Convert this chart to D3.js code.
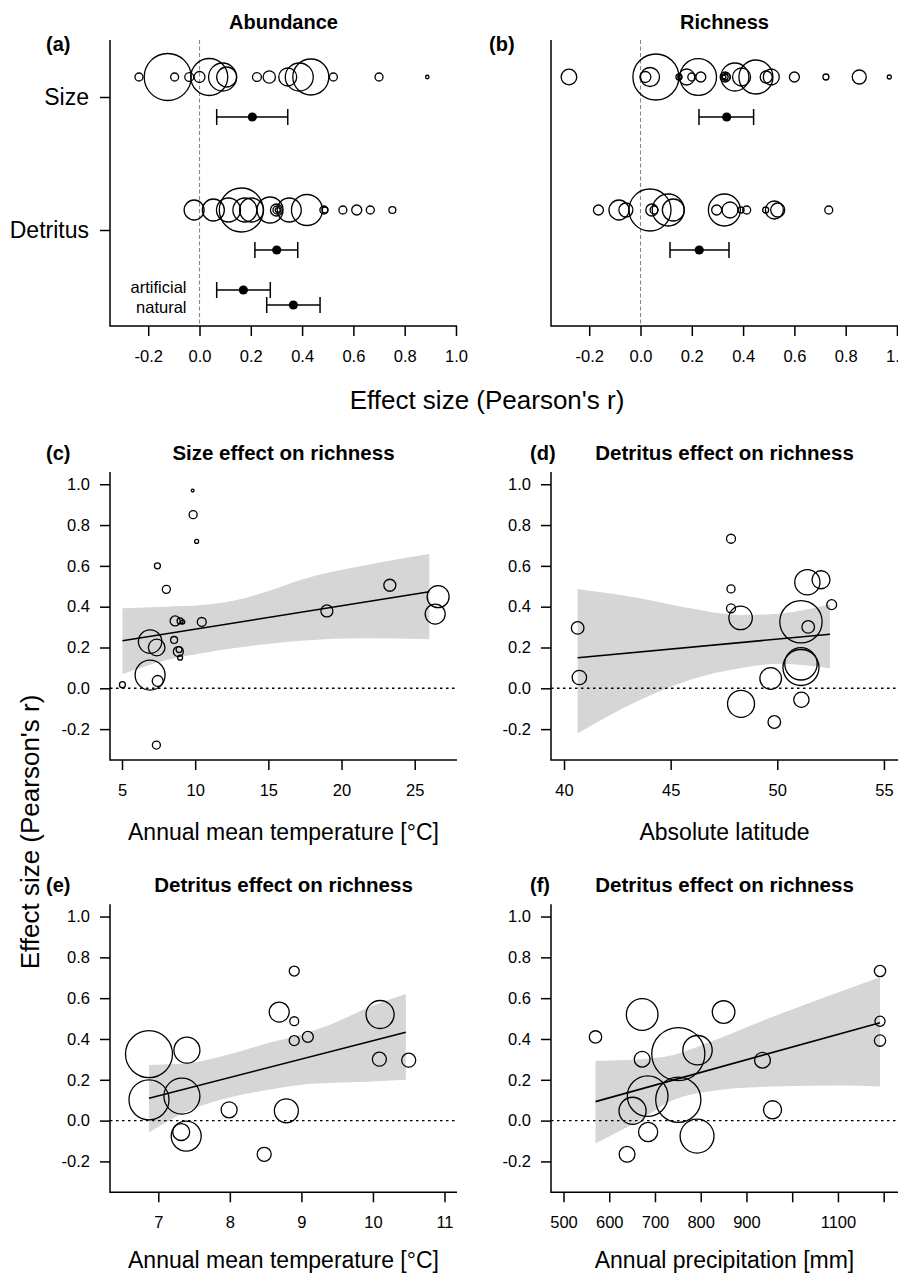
<!DOCTYPE html>
<html><head><meta charset="utf-8">
<script src="https://cdn.jsdelivr.net/npm/d3@7"></script>
<style>
body{margin:0;background:#fff}
svg{display:block}
text{font-family:"Liberation Sans", Arial, Helvetica, sans-serif;fill:#000}
</style>
</head><body>
<svg id="chart" width="898" height="1276"></svg>
<script>
// ---------------- DATA ----------------
const effectTicks = [-0.2, 0.0, 0.2, 0.4, 0.6, 0.8, 1.0];
const rowLabels = ["Size", "Detritus"];

// (a) Abundance: individual study effects (r) and weights
const abundSizeEff = [-0.236,-0.124,-0.097,-0.04,0.0,0.038,0.09,0.106,0.224,0.272,0.344,0.389,0.434,0.522,0.70,0.888];
const abundSizeW   = [16,552,16,20,30,342,196,100,20,38,81,196,324,16,16,3];
const abundDetEff  = [-0.021,0.054,0.113,0.163,0.177,0.203,0.275,0.30,0.302,0.305,0.35,0.419,0.485,0.489,0.559,0.613,0.666,0.752];
const abundDetW    = [100,121,144,484,144,144,169,36,16,6,144,240,16,9,16,25,16,12];
const abundMeanLabels = ["Size", "Detritus", "artificial", "natural"];
const abundMean = [0.206, 0.301, 0.171, 0.366];
const abundLo   = [0.067, 0.216, 0.067, 0.262];
const abundHi   = [0.344, 0.383, 0.276, 0.470];

// (b) Richness
const richSizeEff = [-0.279,0.019,0.037,0.06,0.15,0.153,0.18,0.2,0.225,0.235,0.325,0.33,0.335,0.33,0.368,0.394,0.45,0.49,0.51,0.6,0.723,0.853,0.97];
const richSizeW   = [61,30,90,529,9,4,64,16,335,25,4,9,16,25,196,81,289,36,64,25,9,49,4];
const richDetEff  = [-0.164,-0.084,-0.057,0.037,0.044,0.053,0.108,0.128,0.297,0.327,0.349,0.392,0.414,0.488,0.522,0.535,0.734];
const richDetW    = [25,100,49,441,36,16,256,121,25,256,64,9,16,9,81,49,16];
const richMeanLabels = ["Size", "Detritus"];
const richMean = [0.336, 0.229];
const richLo   = [0.228, 0.115];
const richHi   = [0.441, 0.345];

// (c) Size effect on richness vs temperature
const cTemp   = [9.83,9.86,10.1,7.42,8.03,23.3,26.6,26.4,19.0,8.63,8.97,9.15,10.45,6.92,7.37,8.56,8.85,8.9,8.97,6.92,7.44,5.03,7.35];
const cEffect = [0.969,0.851,0.72,0.6,0.485,0.505,0.449,0.364,0.379,0.33,0.33,0.325,0.325,0.229,0.2,0.237,0.18,0.19,0.15,0.065,0.036,0.018,-0.278];
const cWeight = [2,16,4,9,16,36,121,100,36,25,9,4,20,137,69,12,25,9,6,225,30,9,16];
const cBandX  = [5.03, 8.06, 10.45, 12.6, 14.9, 17.2, 21.7, 26.0];
const cBandLo = [0.07, 0.139, 0.172, 0.196, 0.217, 0.233, 0.245, 0.24];
const cBandHi = [0.392, 0.40, 0.408, 0.429, 0.474, 0.531, 0.604, 0.658];
const cFitX = [5.03, 26.0];
const cFitY = [0.233, 0.473];

// (d)-(f) Detritus effect on richness: shared studies
const detEffect = [0.733,0.487,0.392,0.52,0.532,0.41,0.345,0.326,0.301,0.296,0.12,0.102,0.053,0.048,-0.056,-0.076,-0.165];
const detWeight = [25,20,25,196,100,30,169,552,49,49,324,400,64,144,72,225,49];
const detLat    = [47.83,47.83,47.83,51.41,52.05,52.55,48.28,51.11,51.45,40.64,51.11,51.11,40.72,49.69,51.13,48.3,49.86];
const detTemp   = [8.9,8.9,8.9,10.1,8.69,9.09,7.40,6.87,10.09,10.5,7.33,6.87,7.99,8.79,7.32,7.39,8.48];
const detPrecip = [1192,1192,1192,672,850,570,793,751,672,935,684,751,957,651,685,792,639];

const dBandX  = [40.64, 43.56, 45.9, 48.25, 50.13, 52.47];
const dBandLo = [-0.22, -0.057, 0.041, 0.098, 0.12, 0.098];
const dBandHi = [0.487, 0.441, 0.392, 0.359, 0.367, 0.412];
const dFitX = [40.64, 52.47];
const dFitY = [0.15, 0.265];

const eBandX  = [6.87, 7.4, 8.05, 8.52, 8.98, 9.45, 9.91, 10.46];
const eBandLo = [-0.057, 0.045, 0.118, 0.15, 0.175, 0.185, 0.191, 0.2];
const eBandHi = [0.273, 0.281, 0.33, 0.379, 0.42, 0.477, 0.55, 0.62];
const eFitX = [6.87, 10.46];
const eFitY = [0.11, 0.433];

const fBandX  = [570, 667, 740, 813, 959, 1104, 1192];
const fBandLo = [-0.111, 0.003, 0.101, 0.142, 0.167, 0.172, 0.167];
const fBandHi = [0.293, 0.301, 0.322, 0.379, 0.51, 0.632, 0.703];
const fFitX = [570, 1192];
const fFitY = [0.093, 0.48];

const rTicks = [-0.2, 0.0, 0.2, 0.4, 0.6, 0.8, 1.0];
const cTicks = [5, 10, 15, 20, 25];
const dTicks = [40, 45, 50, 55];
const eTicks = [7, 8, 9, 10, 11];
const fTicks = [500, 600, 700, 800, 900, 1000, 1100, 1200];
const fTickLabels = ["500", "600", "700", "800", "900", "", "1100", ""];

// ---------------- LAYOUT ----------------
const svg = d3.select("#chart");
const colL = [110, 457], colR = [551, 898];
const rowA = [40, 326], rowC = [472, 760], rowE = [904.3, 1192.3];
const effDomain = [-0.349, 1.004];
const rDomain = [-0.3513, 1.06];
const AX = 1.5;

function styleAxis(g, fs) {
  g.attr("font-family", null).attr("font-size", null);
  g.selectAll(".tick line").attr("stroke", "#000").attr("stroke-width", AX);
  g.selectAll(".tick text").style("font-size", fs + "px").attr("fill", "#000");
  g.select(".domain").remove();
}
function boxL(g, xr, yr) {
  g.append("path").attr("d", `M${xr[0]},${yr[0]}V${yr[1]}H${xr[1]}`)
    .attr("fill", "none").attr("stroke", "#000").attr("stroke-width", AX);
}
function title(text, cx, y, size) {
  svg.append("text").attr("x", cx).attr("y", y).attr("dy", "0.35em")
    .attr("text-anchor", "middle").style("font-weight", "bold").style("font-size", size + "px").text(text);
}
function tag(text, x, y) {
  svg.append("text").attr("x", x).attr("y", y).attr("dy", "0.35em")
    .style("font-weight", "bold").style("font-size", "20px").text(text);
}

// ---------------- FOREST PANELS ----------------
function forest(xr, sizeEff, sizeW, detEff, detW, mLabels, mMean, mLo, mHi, ttl, tg, tagX, showRows) {
  const g = svg.append("g");
  const x = d3.scaleLinear().domain(effDomain).range(xr);
  const yRow = d3.scalePoint().domain(rowLabels).range([97, 230]);
  const r = d3.scaleSqrt().domain([0, 100]).range([0, 10]);
  const yMean = {Size: yRow("Size") + 20, Detritus: yRow("Detritus") + 20,
                 artificial: yRow("Detritus") + 60, natural: yRow("Detritus") + 75};
  const yText = {artificial: yRow("Detritus") + 57, natural: yRow("Detritus") + 77};

  // zero line
  g.append("line").attr("x1", x(0)).attr("x2", x(0)).attr("y1", rowA[0]).attr("y2", rowA[1])
    .attr("stroke", "#888").attr("stroke-width", 1.1).attr("stroke-dasharray", "4,2.5");

  // circles
  const circ = (eff, w, row) => g.append("g").selectAll("circle").data(eff).join("circle")
    .attr("cx", d => x(d)).attr("cy", yRow(row) - 20).attr("r", (d, i) => r(w[i]))
    .attr("fill", "none").attr("stroke", "#000").attr("stroke-width", 1.3);
  circ(sizeEff, sizeW, "Size");
  circ(detEff, detW, "Detritus");

  // means with CIs
  const mg = g.append("g").selectAll("g").data(mLabels).join("g");
  mg.append("line").attr("x1", (d, i) => x(mLo[i])).attr("x2", (d, i) => x(mHi[i]))
    .attr("y1", d => yMean[d]).attr("y2", d => yMean[d]).attr("stroke", "#000").attr("stroke-width", 1.5);
  mg.append("line").attr("x1", (d, i) => x(mLo[i])).attr("x2", (d, i) => x(mLo[i]))
    .attr("y1", d => yMean[d] - 8).attr("y2", d => yMean[d] + 8).attr("stroke", "#000").attr("stroke-width", 1.5);
  mg.append("line").attr("x1", (d, i) => x(mHi[i])).attr("x2", (d, i) => x(mHi[i]))
    .attr("y1", d => yMean[d] - 8).attr("y2", d => yMean[d] + 8).attr("stroke", "#000").attr("stroke-width", 1.5);
  mg.append("circle").attr("cx", (d, i) => x(mMean[i])).attr("cy", d => yMean[d]).attr("r", 4.6).attr("fill", "#000");

  if (mLabels.length > 2) {
    ["artificial", "natural"].forEach(lab => {
      g.append("text").attr("x", x(0) - 13).attr("y", yText[lab]).attr("dy", "0.35em")
        .attr("text-anchor", "end").style("font-size", "16.5px").text(lab);
    });
  }

  // axes
  g.append("g").attr("transform", `translate(0,${rowA[1]})`)
    .call(d3.axisBottom(x).tickValues(effectTicks).tickFormat(d => d.toFixed(1)).tickSize(10).tickPadding(14))
    .call(a => styleAxis(a, 16.5));
  const ya = g.append("g").attr("transform", `translate(${xr[0]},0)`)
    .call(d3.axisLeft(yRow).tickSize(10).tickPadding(11));
  styleAxis(ya, 23);
  if (!showRows) ya.selectAll(".tick").remove();
  boxL(g, xr, rowA);

  title(ttl, (xr[0] + xr[1]) / 2, 22, 20);
  tag(tg, tagX, 44);
}

forest(colL, abundSizeEff, abundSizeW, abundDetEff, abundDetW, abundMeanLabels, abundMean, abundLo, abundHi, "Abundance", "(a)", 46, true);
forest(colR, richSizeEff, richSizeW, richDetEff, richDetW, richMeanLabels, richMean, richLo, richHi, "Richness", "(b)", 489, false);

svg.append("text").attr("x", 487).attr("y", 400).attr("dy", "0.35em")
  .attr("text-anchor", "middle").style("font-size", "26px").text("Effect size (Pearson's r)");

// ---------------- SCATTER PANELS ----------------
function scatter(xr, yr, xDom, xTicks, xLabels, xs, ys, ws, rk, bx, blo, bhi, fx, fy, ttl, tg, tagX, xTitle, titleOff) {
  const g = svg.append("g");
  const x = d3.scaleLinear().domain(xDom).range(xr);
  const y = d3.scaleLinear().domain(rDomain).range([yr[1], yr[0]]);
  const r = d3.scaleSqrt().domain([0, 100]).range([0, 10 * rk]);

  const idx = d3.range(bx.length);
  g.append("path").attr("d", d3.area().x(i => x(bx[i])).y0(i => y(blo[i])).y1(i => y(bhi[i])).curve(d3.curveMonotoneX)(idx))
    .attr("fill", "#d6d6d6").attr("stroke", "none");

  g.append("line").attr("x1", xr[0]).attr("x2", xr[1]).attr("y1", y(0)).attr("y2", y(0))
    .attr("stroke", "#000").attr("stroke-width", 1.4).attr("stroke-dasharray", "2.5,3.5");

  g.append("path").attr("d", d3.line().x(i => x(fx[i])).y(i => y(fy[i]))([0, 1]))
    .attr("fill", "none").attr("stroke", "#000").attr("stroke-width", 1.6);

  g.append("g").selectAll("circle").data(xs).join("circle")
    .attr("cx", d => x(d)).attr("cy", (d, i) => y(ys[i])).attr("r", (d, i) => r(ws[i]))
    .attr("fill", "none").attr("stroke", "#000").attr("stroke-width", 1.3);

  g.append("g").attr("transform", `translate(0,${yr[1]})`)
    .call(d3.axisBottom(x).tickValues(xTicks).tickFormat((d, i) => xLabels ? xLabels[i] : String(d)).tickSize(10).tickPadding(14))
    .call(a => styleAxis(a, 16.5));
  g.append("g").attr("transform", `translate(${xr[0]},0)`)
    .call(d3.axisLeft(y).tickValues(rTicks).tickFormat(d => d.toFixed(1)).tickSize(10).tickPadding(10))
    .call(a => styleAxis(a, 16.5));
  boxL(g, xr, yr);

  title(ttl, (xr[0] + xr[1]) / 2, yr[0] - 19, 20.5);
  tag(tg, tagX, yr[0] - 19);
  svg.append("text").attr("x", (xr[0] + xr[1]) / 2).attr("y", yr[1] + titleOff).attr("dy", "0.35em")
    .attr("text-anchor", "middle").style("font-size", "23px").text(xTitle);
}

scatter(colL, rowC, [4.18, 27.89], cTicks, null, cTemp, cEffect, cWeight, 1.0,
  cBandX, cBandLo, cBandHi, cFitX, cFitY, "Size effect on richness", "(c)", 46, "Annual mean temperature [°C]", 72);
scatter(colR, rowC, [39.39, 55.66], dTicks, null, detLat, detEffect, detWeight, 0.9,
  dBandX, dBandLo, dBandHi, dFitX, dFitY, "Detritus effect on richness", "(d)", 530, "Absolute latitude", 72);
scatter(colL, rowE, [6.325, 11.175], eTicks, null, detTemp, detEffect, detWeight, 1.0,
  eBandX, eBandLo, eBandHi, eFitX, eFitY, "Detritus effect on richness", "(e)", 46, "Annual mean temperature [°C]", 68);
scatter(colR, rowE, [472.7, 1231.3], fTicks, fTickLabels, detPrecip, detEffect, detWeight, 1.13,
  fBandX, fBandLo, fBandHi, fFitX, fFitY, "Detritus effect on richness", "(f)", 530, "Annual precipitation [mm]", 68);

svg.append("text").attr("transform", "translate(30,832) rotate(-90)").attr("dy", "0.35em")
  .attr("text-anchor", "middle").style("font-size", "26px").text("Effect size (Pearson's r)");
</script>
</body></html>
